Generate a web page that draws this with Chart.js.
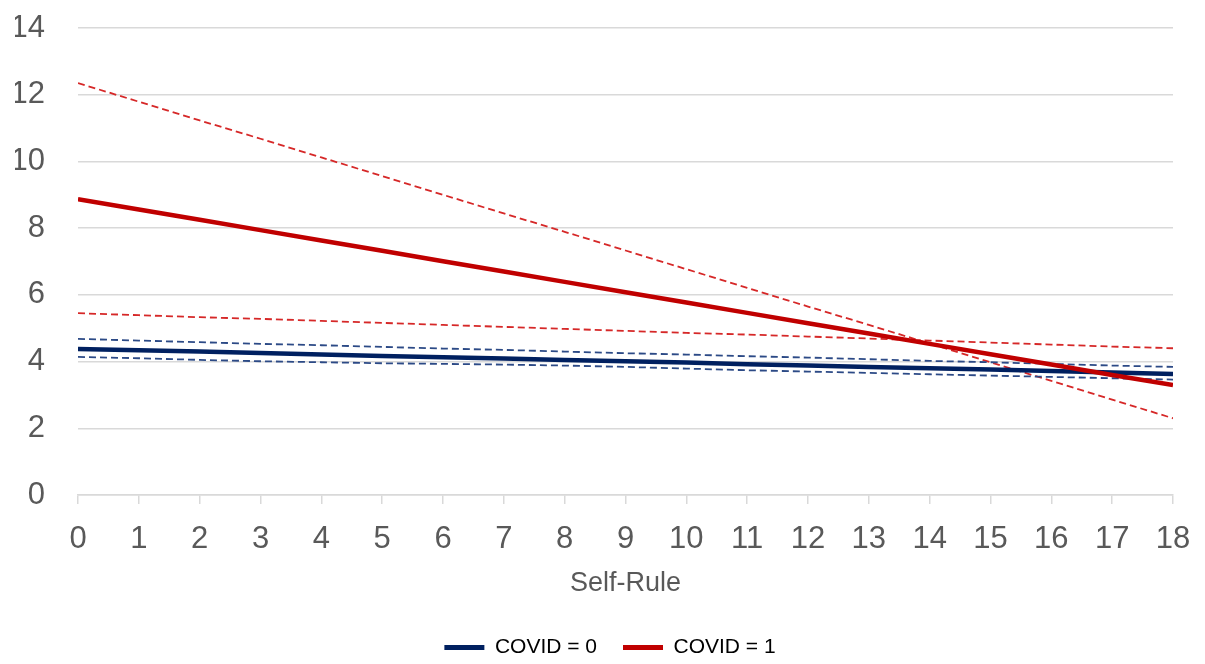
<!DOCTYPE html>
<html>
<head>
<meta charset="utf-8">
<script src="https://cdn.jsdelivr.net/npm/chart.js@4/dist/chart.umd.min.js"></script>
<style>
html,body{margin:0;padding:0;background:#fff;}
#wrap{width:1205px;height:664px;position:relative;}
</style>
</head>
<body>
<div id="wrap"><canvas id="c"></canvas></div>
<script>
const selfRule = [0,1,2,3,4,5,6,7,8,9,10,11,12,13,14,15,16,17,18];
const covid0 = [4.38,4.34,4.30,4.26,4.21,4.17,4.13,4.09,4.05,4.01,3.97,3.92,3.88,3.84,3.80,3.76,3.72,3.67,3.63];
const covid0Upper = [4.68,4.63,4.58,4.53,4.49,4.44,4.39,4.35,4.30,4.25,4.21,4.16,4.12,4.07,4.02,3.98,3.93,3.88,3.84];
const covid0Lower = [4.14,4.10,4.05,4.01,3.98,3.95,3.93,3.91,3.88,3.84,3.79,3.74,3.70,3.66,3.62,3.58,3.54,3.50,3.46];
const covid1 = [8.87,8.56,8.25,7.94,7.63,7.32,7.01,6.70,6.39,6.08,5.77,5.46,5.15,4.84,4.53,4.22,3.91,3.60,3.30];
const covid1Upper = [12.35,11.79,11.23,10.68,10.12,9.56,9.00,8.44,7.89,7.33,6.77,6.21,5.65,5.10,4.54,3.98,3.42,2.86,2.30];
const covid1Lower = [5.45,5.39,5.33,5.28,5.22,5.16,5.10,5.04,4.98,4.92,4.86,4.81,4.75,4.69,4.63,4.57,4.51,4.45,4.40];
const yTicks = [0,2,4,6,8,10,12,14];
const seriesNames = ['COVID = 0','COVID = 1'];

const pts = arr => arr.map((v,i)=>({x:selfRule[i], y:v}));
const FONT = "'Liberation Sans',Arial,sans-serif";
const NAVY = '#002060', RED = '#C00000';

new Chart(document.getElementById('c'), {
  type: 'line',
  data: {
    datasets: [
      {label: seriesNames[0], data: pts(covid0), borderColor: NAVY, backgroundColor: NAVY, borderWidth: 4.5, pointRadius: 0, order: 1},
      {label: 'u0', data: pts(covid0Upper), borderColor: '#2c4a86', borderWidth: 1.8, borderDash: [7,4], pointRadius: 0, order: 2},
      {label: 'l0', data: pts(covid0Lower), borderColor: '#2c4a86', borderWidth: 1.8, borderDash: [7,4], pointRadius: 0, order: 2},
      {label: seriesNames[1], data: pts(covid1), borderColor: RED, backgroundColor: RED, borderWidth: 4.5, pointRadius: 0, order: 0},
      {label: 'u1', data: pts(covid1Upper), borderColor: '#D62828', borderWidth: 1.8, borderDash: [7,4], pointRadius: 0, order: 2},
      {label: 'l1', data: pts(covid1Lower), borderColor: '#D62828', borderWidth: 1.8, borderDash: [7,4], pointRadius: 0, order: 2}
    ]
  },
  options: {
    responsive: true,
    maintainAspectRatio: false,
    animation: false,
    layout: {padding: {left: 15, right: 0, top: 28, bottom: -4}},
    scales: {
      x: {
        type: 'linear', min: 0, max: 18,
        afterFit: s => { s.height = 116; s.paddingRight = 32; s.paddingLeft = 0; },
        grid: {display: true, drawOnChartArea: false, drawTicks: true, tickLength: 9, color: '#d9d9d9', lineWidth: 1.5},
        border: {display: true, color: '#d9d9d9', width: 1.5},
        ticks: {stepSize: 1, color: '#595959', font: {family: FONT, size: 31}, padding: 17, maxRotation: 0, autoSkip: false},
        title: {display: true, text: 'Self-Rule', color: '#595959', font: {family: FONT, size: 27}, padding: {top: 0, bottom: 11}}
      },
      y: {
        min: 0, max: 14,
        afterBuildTicks: s => { s.ticks = yTicks.map(v => ({value: v})); },
        afterFit: s => { s.width = 63; s.paddingTop = 0; s.paddingBottom = 0; },
        grid: {color: '#d9d9d9', lineWidth: 1.5, drawTicks: false},
        border: {display: false},
        ticks: {color: '#595959', font: {family: FONT, size: 31}, padding: 33}
      }
    },
    plugins: {
      legend: {
        position: 'bottom',
        labels: {
          filter: item => seriesNames.includes(item.text),
          boxWidth: 40, boxHeight: 5,
          color: '#595959', font: {family: FONT, size: 21}, padding: 26,
          generateLabels: chart => chart.data.datasets.map((d,i)=>({text: d.label, fillStyle: d.borderColor, strokeStyle: d.borderColor, lineWidth: 0, datasetIndex: i, hidden: false}))
        }
      },
      tooltip: {enabled: false}
    }
  }
});
</script>
</body>
</html>
